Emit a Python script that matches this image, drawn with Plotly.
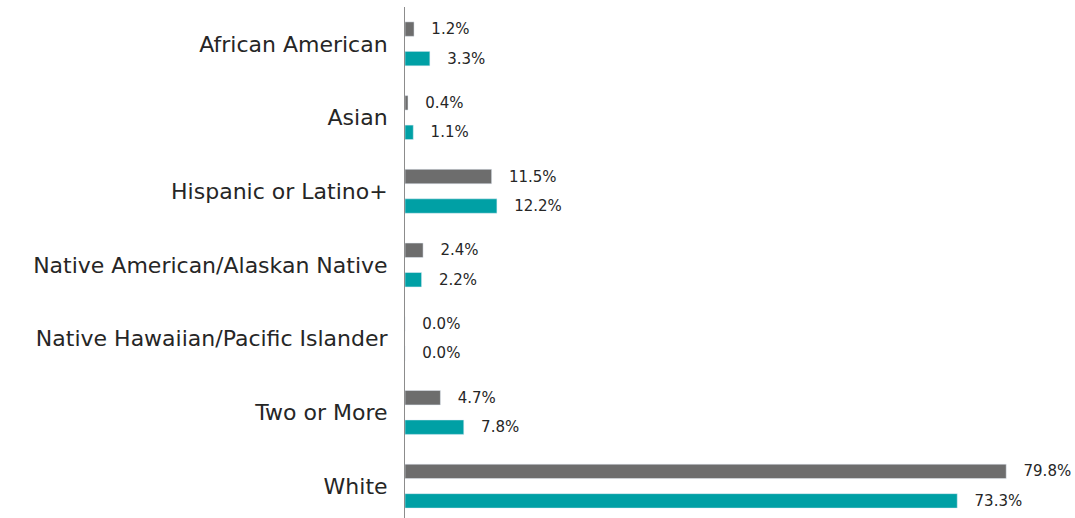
import plotly.graph_objects as go

categories = ["African American", "Asian", "Hispanic or Latino+",
              "Native American/Alaskan Native", "Native Hawaiian/Pacific Islander",
              "Two or More", "White"]
series_a = [1.2, 0.4, 11.5, 2.4, 0.0, 4.7, 79.8]
series_b = [3.3, 1.1, 12.2, 2.2, 0.0, 7.8, 73.3]

fig = go.Figure()
for vals, col in [(series_a, "#6d6d6d"), (series_b, "#00A0A5")]:
    fig.add_trace(go.Bar(y=categories, x=vals, orientation="h", marker_color=col,
                         texttemplate="\u00a0\u00a0\u00a0%{x:.1f}%", textposition="outside",
                         constraintext="none", cliponaxis=False,
                         textfont=dict(size=15, color="#262626")))
fig.update_layout(
    width=1075, height=523, barmode="group", bargap=0.2, bargroupgap=0.51,
    margin=dict(l=405, r=7, t=7, b=0), showlegend=False,
    plot_bgcolor="white", paper_bgcolor="white",
    font=dict(family="DejaVu Sans, sans-serif", color="#262626"),
    xaxis=dict(range=[0, 88], visible=False, showgrid=False),
    yaxis=dict(autorange="reversed", showline=True, linecolor="#8c8c8c", linewidth=1,
               ticks="", tickfont=dict(size=22, color="#262626"), ticklabelstandoff=12,
               showgrid=False, automargin=False),
)
fig.write_html("out.html", config={"displayModeBar": False},
               post_script="document.body.style.margin='0';document.body.style.overflow='hidden';")
